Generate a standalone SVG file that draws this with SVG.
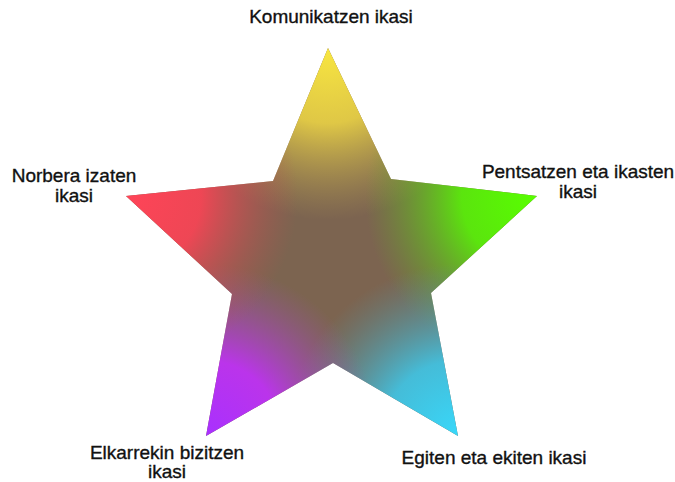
<svg xmlns="http://www.w3.org/2000/svg" width="675" height="482" viewBox="0 0 675 482">
  <style>
    .lbl { font-family: "Liberation Sans", Arial, sans-serif; font-size: 19px; fill: #111; stroke: #111; stroke-width: 0.35; text-anchor: middle; }
  </style>
  <defs>
    <clipPath id="starClip">
      <polygon points="328,48 391,179 537,196 431,293 458,436 333,363 206,436 232,294 126,196 273,181"/>
    </clipPath>
    <radialGradient id="gTop" gradientUnits="userSpaceOnUse" cx="328" cy="48" r="215">
      <stop offset="0" stop-color="#f8e640" stop-opacity="1"/>
      <stop offset="0.35" stop-color="#e8d045" stop-opacity="0.92"/>
      <stop offset="0.8" stop-color="#b8a050" stop-opacity="0"/>
    </radialGradient>
    <radialGradient id="gRight" gradientUnits="userSpaceOnUse" cx="537" cy="196" r="215">
      <stop offset="0" stop-color="#58ff00" stop-opacity="1"/>
      <stop offset="0.35" stop-color="#58f008" stop-opacity="0.92"/>
      <stop offset="0.8" stop-color="#60b020" stop-opacity="0"/>
    </radialGradient>
    <radialGradient id="gBR" gradientUnits="userSpaceOnUse" cx="458" cy="436" r="215">
      <stop offset="0" stop-color="#38d8fa" stop-opacity="1"/>
      <stop offset="0.35" stop-color="#40c4e4" stop-opacity="0.92"/>
      <stop offset="0.8" stop-color="#5098a8" stop-opacity="0"/>
    </radialGradient>
    <radialGradient id="gBL" gradientUnits="userSpaceOnUse" cx="206" cy="436" r="215">
      <stop offset="0" stop-color="#a830ff" stop-opacity="1"/>
      <stop offset="0.35" stop-color="#c030f8" stop-opacity="0.92"/>
      <stop offset="0.8" stop-color="#a050b8" stop-opacity="0"/>
    </radialGradient>
    <radialGradient id="gLeft" gradientUnits="userSpaceOnUse" cx="126" cy="196" r="215">
      <stop offset="0" stop-color="#ff4458" stop-opacity="1"/>
      <stop offset="0.35" stop-color="#f84455" stop-opacity="0.92"/>
      <stop offset="0.8" stop-color="#b85050" stop-opacity="0"/>
    </radialGradient>
  </defs>

  <g id="star" clip-path="url(#starClip)">
    <rect x="100" y="40" width="460" height="410" fill="#7c6450"/>
    <g id="arm-top"><rect x="100" y="40" width="460" height="410" fill="url(#gTop)"/></g>
    <g id="arm-right"><rect x="100" y="40" width="460" height="410" fill="url(#gRight)"/></g>
    <g id="arm-bottom-right"><rect x="100" y="40" width="460" height="410" fill="url(#gBR)"/></g>
    <g id="arm-bottom-left"><rect x="100" y="40" width="460" height="410" fill="url(#gBL)"/></g>
    <g id="arm-left"><rect x="100" y="40" width="460" height="410" fill="url(#gLeft)"/></g>
  </g>

  <g id="label-top"><text class="lbl" x="331" y="23">Komunikatzen ikasi</text></g>
  <g id="label-left"><text class="lbl" x="74" y="182">Norbera izaten</text><text class="lbl" x="74" y="202">ikasi</text></g>
  <g id="label-right"><text class="lbl" x="578" y="178">Pentsatzen eta ikasten</text><text class="lbl" x="578" y="198">ikasi</text></g>
  <g id="label-bottom-left"><text class="lbl" x="167" y="459">Elkarrekin bizitzen</text><text class="lbl" x="167" y="478">ikasi</text></g>
  <g id="label-bottom-right"><text class="lbl" x="494" y="464">Egiten eta ekiten ikasi</text></g>
</svg>
